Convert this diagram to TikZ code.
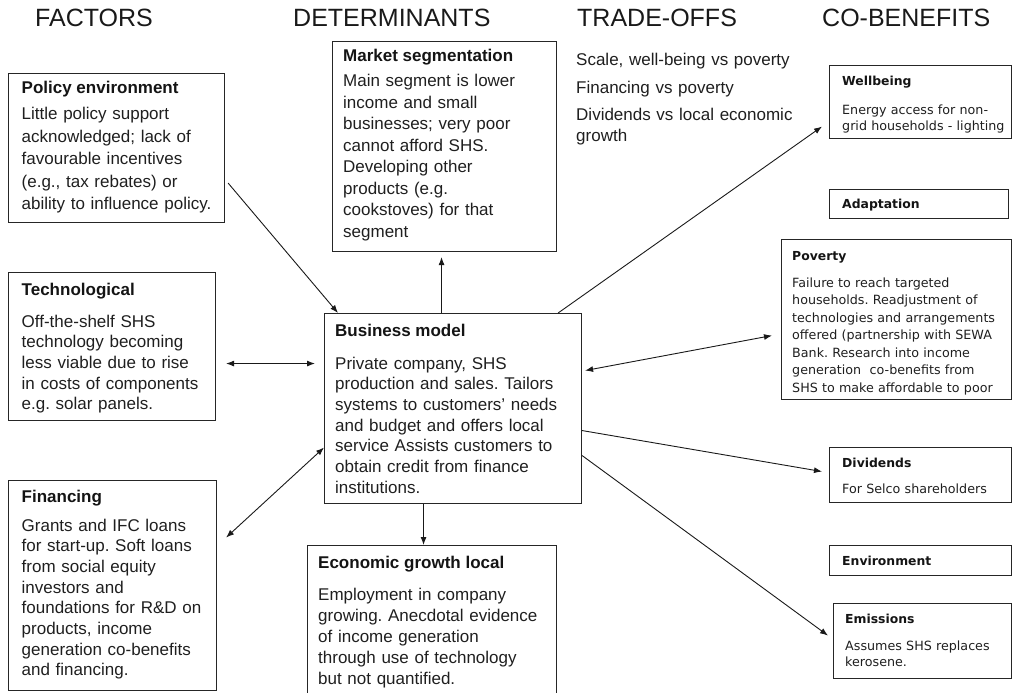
\documentclass[tikz,border=0pt]{standalone}
\usepackage{fontspec}
\setmainfont{Liberation Sans}
\newfontfamily\smallsans{DejaVu Sans}
\usetikzlibrary{arrows.meta,calc}
\frenchspacing

\begin{document}
\begin{tikzpicture}[x=1pt,y=-1pt,
  panel/.style={draw=black!85, line width=1.1pt, anchor=north west, inner sep=0pt},
  head/.style={anchor=base west, inner sep=0pt, text=black!90, font=\fontsize{25}{30}\selectfont},
  ttl/.style={anchor=base west, inner sep=0pt, text=black!92, font=\fontsize{17}{20}\selectfont\bfseries},
  txt/.style={anchor=base west, inner sep=0pt, align=left, text width=#1, text=black!88,
              font=\fontsize{17}{20.7}\selectfont},
  rttl/.style={anchor=base west, inner sep=0pt, text=black!92, font=\smallsans\fontsize{12.4}{15}\selectfont\bfseries},
  rtxt/.style={anchor=base west, inner sep=0pt, align=left, text width=#1, text=black!88,
              font=\smallsans\fontsize{12.7}{17.5}\selectfont},
  conn/.style={line width=0.9pt, black!90},
  tip/.style={-{Latex[length=8pt,width=6pt]}},
  tips/.style={{Latex[length=8pt,width=6pt]}-{Latex[length=8pt,width=6pt]}}
]
\useasboundingbox (0,0) rectangle (1013,693);

% column headings
\node[head] (hF) at (35,27) {FACTORS};
\node[head] (hD) at (293,27) {DETERMINANTS};
\node[head] (hT) at (577,27) {TRADE-OFFS};
\node[head] (hC) at (822,27) {CO-BENEFITS};

% ---------------- factors ----------------
\node[panel, minimum width=216pt, minimum height=149pt] (pol) at (8,73) {};
\node[ttl] (polT) at (21.5,94) {Policy environment};
\node[txt=200pt, font=\fontsize{17}{22.5}\selectfont] (polB) at (21.5,120)
  {Little policy support\\acknowledged; lack of\\favourable incentives\\(e.g., tax rebates) or\\ability to influence policy.};

\node[panel, minimum width=207pt, minimum height=148pt] (tech) at (8,272) {};
\node[ttl] (techT) at (21.5,295) {Technological};
\node[txt=200pt] (techB) at (21.5,327)
  {Off-the-shelf SHS\\technology becoming\\less viable due to rise\\in costs of components\\e.g. solar panels.};

\node[panel, minimum width=208pt, minimum height=210pt] (fin) at (8,480) {};
\node[ttl] (finT) at (21.5,502) {Financing};
\node[txt=200pt] (finB) at (21.5,531)
  {Grants and IFC loans\\for start-up. Soft loans\\from social equity\\investors and\\foundations for R\&D on\\products, income\\generation co-benefits\\and financing.};

% ---------------- determinants ----------------
\node[panel, minimum width=224pt, minimum height=210pt] (mkt) at (332,41) {};
\node[ttl] (mktT) at (343,62) {Market segmentation};
\node[txt=210pt, font=\fontsize{17}{21.5}\selectfont] (mktB) at (343,87)
  {Main segment is lower\\income and small\\businesses; very poor\\cannot afford SHS.\\Developing other\\products (e.g.\\cookstoves) for that\\segment};

\node[panel, minimum width=257pt, minimum height=190pt] (biz) at (324,313) {};
\node[ttl] (bizT) at (335,336) {Business model};
\node[txt=245pt] (bizB) at (335,369)
  {Private company, SHS\\production and sales. Tailors\\systems to customers' needs\\and budget and offers local\\service Assists customers to\\obtain credit from finance\\institutions.};

\node[panel, minimum width=249pt, minimum height=150pt] (eco) at (307,545) {};
\node[ttl] (ecoT) at (318,568) {Economic growth local};
\node[txt=235pt, font=\fontsize{17}{21.2}\selectfont] (ecoB) at (318,600)
  {Employment in company\\growing. Anecdotal evidence\\of income generation\\through use of technology\\but not quantified.};

% ---------------- trade-offs ----------------
\node[txt=230pt] (to1) at (576,66) {Scale, well-being vs poverty};
\node[txt=230pt] (to2) at (576,94) {Financing vs poverty};
\node[txt=230pt] (to3) at (576,121) {Dividends vs local economic\\growth};

% ---------------- co-benefits ----------------
\node[panel, minimum width=182pt, minimum height=73pt] (well) at (829,65) {};
\node[rttl] (wellT) at (842,86) {Wellbeing};
\node[rtxt=165pt, font=\smallsans\fontsize{12.7}{16}\selectfont] (wellB) at (842,114)
  {Energy access for non-\\grid households - lighting};

\node[panel, minimum width=179pt, minimum height=29pt] (adap) at (829,189) {};
\node[rttl] (adapT) at (842,208) {Adaptation};

\node[panel, minimum width=230pt, minimum height=160pt] (pov) at (781,239) {};
\node[rttl] (povT) at (792,260) {Poverty};
\node[rtxt=215pt] (povB) at (792,287)
  {Failure to reach targeted\\households. Readjustment of\\technologies and arrangements\\offered (partnership with SEWA\\Bank. Research into income\\generation\ \ co-benefits from\\SHS to make affordable to poor};

\node[panel, minimum width=182pt, minimum height=55pt] (div) at (829,447) {};
\node[rttl] (divT) at (842,467) {Dividends};
\node[rtxt=165pt] (divB) at (842,493) {For Selco shareholders};

\node[panel, minimum width=182pt, minimum height=30pt] (env) at (829,545) {};
\node[rttl] (envT) at (842,565) {Environment};

\node[panel, minimum width=178pt, minimum height=75pt] (emi) at (833,603) {};
\node[rttl] (emiT) at (845,623) {Emissions};
\node[rtxt=160pt, font=\smallsans\fontsize{12.7}{16}\selectfont] (emiB) at (845,650)
  {Assumes SHS replaces\\kerosene.};

% ---------------- connectors ----------------
\draw[conn, tip] ([xshift=3pt,yshift=-35pt]pol.east) -- ([xshift=14pt]biz.north west);
\draw[conn, tips, shorten <=10pt, shorten >=9pt]
  ([yshift=-17pt]tech.east) -- ([yshift=-17pt]tech.east -| biz.west);
\draw[conn, tips] ([xshift=9pt,yshift=48pt]fin.east) -- ([yshift=-39pt]biz.west);
\draw[conn, tip, shorten >=5pt] ([xshift=-11.5pt]biz.north) -- ([xshift=-11.5pt]biz.north |- mkt.south);
\draw[conn, tip] ([xshift=-29.5pt]biz.south) -- ([xshift=-29.5pt]biz.south |- eco.north);
\draw[conn, tip] ([xshift=-24pt]biz.north east) -- ([xshift=-7pt,yshift=-24.5pt]well.west);
\draw[conn, tips] ([xshift=3pt,yshift=38pt]biz.east) -- ([xshift=-9pt,yshift=-16pt]pov.west);
\draw[conn, tip] ([yshift=-22pt]biz.east) -- ([xshift=-7pt,yshift=3.5pt]div.west);
\draw[conn, tip] ([yshift=-47pt]biz.east) -- ([xshift=-5pt,yshift=5.5pt]emi.west);
\end{tikzpicture}
\end{document}
